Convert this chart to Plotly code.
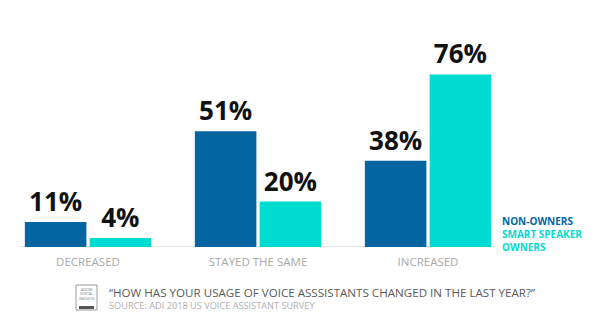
import plotly.graph_objects as go

categories = ["DECREASED", "STAYED THE SAME", "INCREASED"]
non_owners = [11, 51, 38]
owners = [4, 20, 76]
series_names = ["NON-OWNERS", "SMART SPEAKER OWNERS"]
question = "\u201cHOW HAS YOUR USAGE OF VOICE ASSSISTANTS CHANGED IN THE LAST YEAR?\u201d"
source = "SOURCE: ADI 2018 US VOICE ASSISTANT SURVEY"

BLUE = "#0466A1"
CYAN = "#00DCD1"
W, H = 600, 328
ML, MR, MT, MB = 3, 87, 20, 81
PW, PH = W - ML - MR, H - MT - MB

def px(x):
    return (x - ML) / PW

def py(y):
    return (H - MB - y) / PH

fig = go.Figure()
for name, vals, col in [(series_names[0], non_owners, BLUE), (series_names[1], owners, CYAN)]:
    fig.add_trace(go.Bar(
        x=categories, y=vals, name=name, marker=dict(color=col, line=dict(width=0)),
        text=[f"{v}%" for v in vals], textposition="outside", constraintext="none",
        cliponaxis=False,
        textfont=dict(family="Open Sans", size=26, color="#111111", weight="bold"),
    ))

fig.add_shape(type="line", xref="x", yref="y", x0=-0.4, x1=2.4, y0=0, y1=0,
              line=dict(color="#dcdcdc", width=1.5), layer="below")

# legend text
fig.add_annotation(
    xref="paper", yref="paper", x=px(500), y=py(233.5), xanchor="left", yanchor="middle",
    align="left", showarrow=False,
    text=f"<span style='color:{BLUE}'>NON-OWNERS</span><br><span style='color:{CYAN}'>SMART SPEAKER<br>OWNERS</span>",
    font=dict(family="Open Sans", size=10, weight="bold"),
)

# footer text
fig.add_annotation(xref="paper", yref="paper", x=px(107), y=py(292), xanchor="left", yanchor="middle",
                   showarrow=False, text=question,
                   font=dict(family="Open Sans", size=11.6, color="#5a5a5a"))
fig.add_annotation(xref="paper", yref="paper", x=px(107), y=py(305), xanchor="left", yanchor="middle",
                   showarrow=False, text=source,
                   font=dict(family="Open Sans", size=9.2, color="#b0b0b0"))

# badge icon
fig.add_shape(type="rect", xref="paper", yref="paper", x0=px(76), x1=px(97), y0=py(310), y1=py(285),
              line=dict(color="#9a9a9a", width=1), fillcolor="white")
fig.add_shape(type="rect", xref="paper", yref="paper", x0=px(79), x1=px(94), y0=py(309), y1=py(306),
              line=dict(width=0), fillcolor="#555555")
for i, t in enumerate(["ADOBE", "DIGITAL", "INSIGHTS"]):
    fig.add_annotation(xref="paper", yref="paper", x=px(86.5), y=py(289 + i * 4.5), showarrow=False,
                       text=t, font=dict(family="Open Sans", size=3.5, color="#777777"),
                       xanchor="center", yanchor="middle")

fig.update_layout(
    width=W, height=H, margin=dict(l=ML, r=MR, t=MT, b=MB),
    paper_bgcolor="white", plot_bgcolor="white",
    barmode="group", bargap=0.238, bargroupgap=0.05,
    showlegend=False,
    xaxis=dict(showgrid=False, showline=False, zeroline=False, ticks="",
               tickfont=dict(family="Open Sans", size=11.5, color="#a8a8a8"),
               ticklabelstandoff=6),
    yaxis=dict(range=[0, 100], visible=False, showgrid=False, zeroline=False),
)

fig.write_html("out.html")
